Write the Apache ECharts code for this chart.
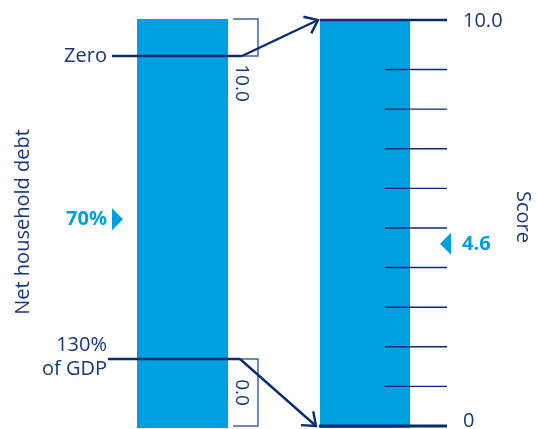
<!DOCTYPE html>
<html><head><meta charset="utf-8">
<script src="https://cdn.jsdelivr.net/npm/echarts@6/dist/echarts.min.js"></script>
<style>html,body{margin:0;padding:0;background:#fff}#c{width:537px;height:429px}</style>
</head><body><div id="c"></div>
<script>
// ---------------- data ----------------
const debtRefValues = [0, 130];                 // net household debt, % of GDP
const debtRefLabels = ['Zero', '130%\nof GDP'];
const bracketLabels = ['10.0', '0.0'];          // score equivalent of each debt end
const scoreTicks = [1, 2, 3, 4, 5, 6, 7, 8, 9];
const scoreEnds = [10.25, 0];                   // top line sits at the top of the score scale
const scoreEndLabels = ['10.0', '0'];
const debtMarker = [70];
const debtMarkerLabels = ['70%'];
const scoreMarker = [4.6];
const scoreMarkerLabels = ['4.6'];
const axisTitles = ['Net household debt', 'Score'];
const debtAxisRange = [-15.87, 159.6];
const scoreAxisRange = [-0.05, 10.275];

// ---------------- style ----------------
const NAVY = '#0b2c6c', TEXT = '#173779', BLUE = '#009fdf', BRACKET = '#4462a0';
const FONT = '"Open Sans", "Noto Sans", sans-serif';

const chart = echarts.init(document.getElementById('c'), null, {renderer: 'canvas'});
function yOf(api, v) { return api.coord([0, v])[1]; }
function scorePx(v) { return chart.convertToPixel({yAxisIndex: 1}, v); }

function arrowHead(x1, y1, x2, y2, len, ang) {
  const dx = x2 - x1, dy = y2 - y1, L = Math.hypot(dx, dy);
  const rx = -dx / L, ry = -dy / L;
  const c = Math.cos(ang), s = Math.sin(ang);
  const a = [x2 + len * (rx * c - ry * s), y2 + len * (rx * s + ry * c)];
  const b = [x2 + len * (rx * c + ry * s), y2 + len * (-rx * s + ry * c)];
  return [a, [x2, y2], b];
}

const option = {
  animation: false,
  grid: {left: 0, right: 0, top: 19, bottom: 1},
  xAxis: {type: 'value', min: 0, max: 537, show: false},
  yAxis: [
    {type: 'value', inverse: true, min: debtAxisRange[0], max: debtAxisRange[1], show: false},
    {type: 'value', min: scoreAxisRange[0], max: scoreAxisRange[1], show: false}
  ],
  graphic: [
    {type: 'text', x: 23, y: 222, rotation: Math.PI / 2,
     style: {text: axisTitles[0], x: 0, y: 0, align: 'center', verticalAlign: 'middle', fill: TEXT, font: '20px ' + FONT}},
    {type: 'text', x: 523, y: 217, rotation: -Math.PI / 2,
     style: {text: axisTitles[1], x: 0, y: 0, align: 'center', verticalAlign: 'middle', fill: TEXT, font: '20px ' + FONT}}
  ],
  series: [
    {id: 'debtBar', type: 'custom', yAxisIndex: 0, data: [[0, debtAxisRange[0], debtAxisRange[1]]],
     renderItem: (p, api) => {
       const y1 = yOf(api, api.value(1)), y2 = yOf(api, api.value(2));
       return {type: 'rect', shape: {x: 137, y: Math.min(y1, y2), width: 91, height: Math.abs(y2 - y1)}, style: {fill: BLUE}};
     }},
    {id: 'scoreBar', type: 'custom', yAxisIndex: 1, data: [[0, scoreAxisRange[0], scoreAxisRange[1]]],
     renderItem: (p, api) => {
       const y1 = yOf(api, api.value(1)), y2 = yOf(api, api.value(2));
       return {type: 'rect', shape: {x: 320, y: Math.min(y1, y2), width: 90, height: Math.abs(y2 - y1)}, style: {fill: BLUE}};
     }},
    {id: 'scoreTicks', type: 'custom', yAxisIndex: 1, data: scoreTicks.map(v => [0, v]),
     renderItem: (p, api) => {
       const y = yOf(api, api.value(1));
       return {type: 'line', shape: {x1: 385, y1: y, x2: 447, y2: y}, style: {stroke: NAVY, lineWidth: 1.4}};
     }},
    {id: 'scoreEnds', type: 'custom', yAxisIndex: 1, data: scoreEnds.map((v, i) => [0, v, i]),
     renderItem: (p, api) => {
       const i = api.value(2), y = yOf(api, api.value(1));
       return {type: 'group', children: [
         {type: 'line', shape: {x1: i === 0 ? 320 : 319, y1: y, x2: 447, y2: y}, style: {stroke: NAVY, lineWidth: i === 0 ? 2.4 : 3.2}},
         {type: 'text', style: {text: scoreEndLabels[i], x: 463, y: i === 0 ? y + 1.5 : y - 5, align: 'left', verticalAlign: 'middle', fill: TEXT, font: '20px ' + FONT}}
       ]};
     }},
    {id: 'debtRefs', type: 'custom', yAxisIndex: 0, data: debtRefValues.map((v, i) => [0, v, i]),
     renderItem: (p, api) => {
       const i = api.value(2), y = yOf(api, api.value(1));
       return {type: 'group', children: [
         {type: 'line', shape: {x1: i === 0 ? 112 : 108, y1: y, x2: i === 0 ? 242 : 240, y2: y}, style: {stroke: NAVY, lineWidth: 2.4}},
         {type: 'text', style: {text: debtRefLabels[i], x: 107, y: i === 0 ? y : y - 1.5, align: 'right', verticalAlign: 'middle', lineHeight: 24, fill: TEXT, font: '20px ' + FONT}}
       ]};
     }},
    {id: 'debtMarker', type: 'custom', yAxisIndex: 0, data: debtMarker.map((v, i) => [0, v, i]),
     renderItem: (p, api) => {
       const i = api.value(2), y = yOf(api, api.value(1));
       return {type: 'group', children: [
         {type: 'polygon', shape: {points: [[112, y - 11], [123, y], [112, y + 11]]}, style: {fill: BLUE}},
         {type: 'text', style: {text: debtMarkerLabels[i], x: 107, y: y, align: 'right', verticalAlign: 'middle', fill: BLUE, font: 'bold 20px ' + FONT}}
       ]};
     }},
    {id: 'scoreMarker', type: 'custom', yAxisIndex: 1, data: scoreMarker.map((v, i) => [0, v, i]),
     renderItem: (p, api) => {
       const i = api.value(2), y = yOf(api, api.value(1));
       return {type: 'group', children: [
         {type: 'polygon', shape: {points: [[451, y - 11], [440, y], [451, y + 11]]}, style: {fill: BLUE}},
         {type: 'text', style: {text: scoreMarkerLabels[i], x: 462, y: y, align: 'left', verticalAlign: 'middle', fill: BLUE, font: 'bold 20px ' + FONT}}
       ]};
     }},
    {id: 'connectors', type: 'custom', yAxisIndex: 0, data: [],
     renderItem: (p, api) => {
       const i = api.value(2);
       const yd = yOf(api, api.value(1));
       const ys = scorePx(api.value(3));
       const x1 = i === 0 ? 242 : 240, x2 = i === 0 ? 318 : 316;
       const bracket = i === 0
         ? [[233, ys - 1], [258, ys - 1], [258, yd], [242, yd]]
         : [[240, yd], [258, yd], [258, ys], [233, ys]];
       const ly = i === 0 ? yd + 27 : (yd + ys) / 2;
       return {type: 'group', children: [
         {type: 'polyline', shape: {points: bracket}, style: {stroke: BRACKET, lineWidth: 1.5, fill: null}},
         {type: 'line', shape: {x1: x1, y1: yd, x2: x2, y2: ys}, style: {stroke: NAVY, lineWidth: 2.4}},
         {type: 'polyline', shape: {points: arrowHead(x1, yd, x2, ys, 15, 38 * Math.PI / 180)}, style: {stroke: NAVY, lineWidth: 2.4, fill: null}},
         {type: 'text', x: 241, y: ly, rotation: -Math.PI / 2,
          style: {text: bracketLabels[i], x: 0, y: 0, align: 'center', verticalAlign: 'middle', fill: TEXT, font: '19px ' + FONT}}
       ]};
     }}
  ]
};
chart.setOption(option);
chart.setOption({series: [{id: 'connectors', data: debtRefValues.map((v, i) => [0, v, i, scoreEnds[i]])}]});
</script>
</body></html>
